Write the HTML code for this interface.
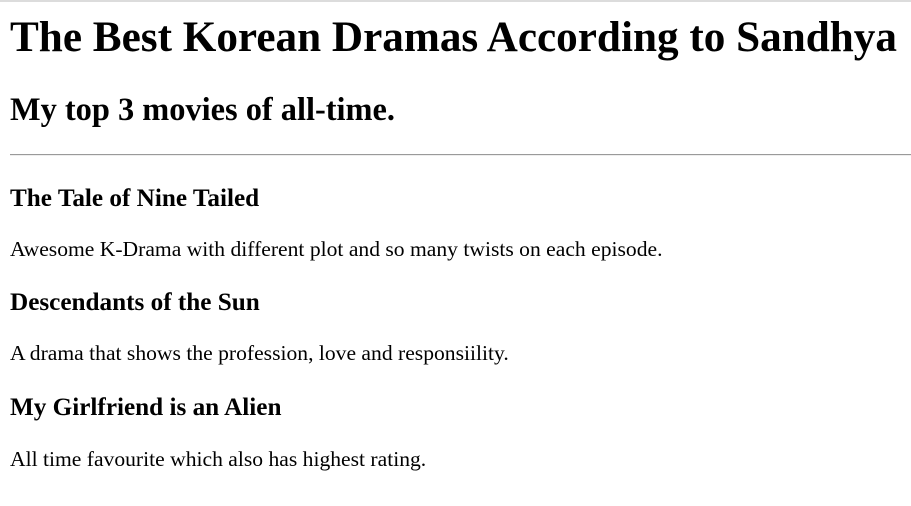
<!DOCTYPE html>
<html><head><meta charset="utf-8"><style>
html,body{margin:0;padding:0;width:911px;height:506px;background:#fff;overflow:hidden}
body{font-family:"Liberation Serif",serif;color:#000;position:relative}
.t{position:absolute;left:10px;margin:0;line-height:1;white-space:nowrap}
h1.t{font-size:43.2px;font-weight:bold}
h2.t{font-size:32.4px;font-weight:bold}
h3.t{font-size:25.2px;font-weight:bold}
p.t{font-size:21.6px}
</style></head><body>
<div style="position:absolute;left:0;top:0;width:911px;height:2px;background:#dcdcdc"></div>
<h1 class="t" style="top:16px">The Best Korean Dramas According to Sandhya</h1>
<h2 class="t" style="top:94px">My top 3 movies of all-time.</h2>
<div style="position:absolute;left:10px;top:154px;width:901px;height:0;border-top:1px solid #9a9a9a;border-bottom:1px solid #eee"></div>
<h3 class="t" style="top:186px">The Tale of Nine Tailed</h3>
<p class="t" style="top:239px">Awesome K-Drama with different plot and so many twists on each episode.</p>
<h3 class="t" style="top:290px">Descendants of the Sun</h3>
<p class="t" style="top:343px">A drama that shows the profession, love and responsiility.</p>
<h3 class="t" style="top:395px">My Girlfriend is an Alien</h3>
<p class="t" style="top:449px">All time favourite which also has highest rating.</p>
</body></html>
